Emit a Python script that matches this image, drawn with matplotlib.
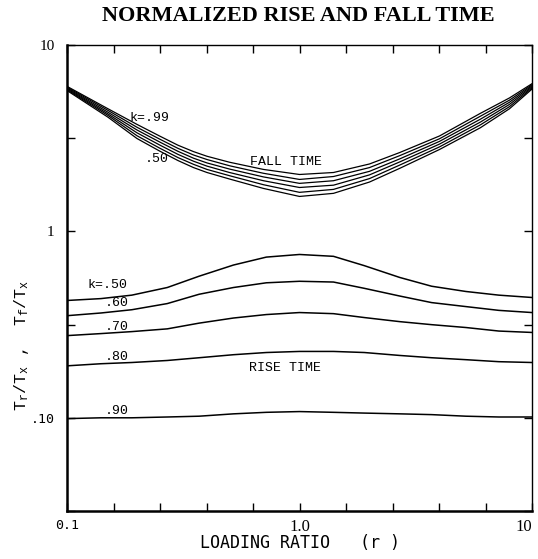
import matplotlib
matplotlib.use("Agg")
import matplotlib.pyplot as plt
from matplotlib.ticker import FixedLocator, FixedFormatter, NullLocator

# loading ratio r for the fall-time curves
r_fall = [0.1, 0.15, 0.2, 0.25, 0.3, 0.35, 0.4, 0.5, 0.7, 1.0, 1.4, 2.0, 2.7, 4.0, 6.0, 8.0, 10.0]
fall_k99 = [6.00, 4.55, 3.75, 3.25, 2.90, 2.68, 2.53, 2.35, 2.15, 2.02, 2.07, 2.30, 2.65, 3.25, 4.30, 5.20, 6.20]
fall_k90 = [5.94, 4.46, 3.62, 3.13, 2.79, 2.57, 2.43, 2.25, 2.05, 1.90, 1.97, 2.20, 2.55, 3.14, 4.15, 5.06, 6.12]
fall_k80 = [5.88, 4.36, 3.50, 3.02, 2.69, 2.47, 2.33, 2.16, 1.96, 1.81, 1.87, 2.10, 2.45, 3.04, 4.00, 4.93, 6.04]
fall_k70 = [5.82, 4.27, 3.38, 2.91, 2.59, 2.38, 2.24, 2.07, 1.87, 1.72, 1.77, 2.01, 2.36, 2.94, 3.86, 4.80, 5.96]
fall_k60 = [5.76, 4.19, 3.26, 2.80, 2.49, 2.29, 2.15, 1.99, 1.78, 1.62, 1.68, 1.92, 2.27, 2.84, 3.73, 4.67, 5.88]
fall_k50 = [5.70, 4.10, 3.15, 2.70, 2.40, 2.20, 2.07, 1.91, 1.70, 1.54, 1.60, 1.84, 2.18, 2.75, 3.60, 4.55, 5.80]

# loading ratio r for the rise-time curves
r_rise = [0.1, 0.14, 0.19, 0.27, 0.37, 0.52, 0.72, 1.0, 1.4, 1.9, 2.7, 3.7, 5.2, 7.2, 10.0]
rise_k50 = [0.426, 0.436, 0.455, 0.500, 0.575, 0.660, 0.728, 0.752, 0.735, 0.655, 0.566, 0.508, 0.476, 0.455, 0.442]
rise_k60 = [0.353, 0.365, 0.380, 0.410, 0.460, 0.500, 0.530, 0.540, 0.535, 0.495, 0.450, 0.415, 0.395, 0.377, 0.367]
rise_k70 = [0.276, 0.283, 0.290, 0.300, 0.322, 0.343, 0.358, 0.367, 0.362, 0.345, 0.328, 0.316, 0.305, 0.292, 0.287]
rise_k80 = [0.190, 0.195, 0.198, 0.203, 0.210, 0.218, 0.224, 0.227, 0.227, 0.224, 0.216, 0.210, 0.205, 0.200, 0.198]
rise_k90 = [0.099, 0.100, 0.100, 0.101, 0.102, 0.105, 0.107, 0.108, 0.107, 0.106, 0.105, 0.104, 0.102, 0.101, 0.101]

x_ticks = [10 ** (-1 + 0.2 * i) for i in range(11)]
x_labels = ["0.1", "", "", "", "", "1.0", "", "", "", "", "10"]
y_ticks = [10 ** (-1.5 + 0.5 * i) for i in range(6)]
y_labels = ["", ".10", "", "1", "", "10"]

W, H = 538, 559
fig = plt.figure(figsize=(W / 100, H / 100), dpi=100)
ax = fig.add_axes([67 / W, 1 - 511 / H, 465 / W, 466 / H])

for ys in [fall_k99, fall_k90, fall_k80, fall_k70, fall_k60, fall_k50]:
    ax.plot(r_fall, ys, color="black", lw=0.9)
for ys in [rise_k50, rise_k60, rise_k70, rise_k80, rise_k90]:
    ax.plot(r_rise, ys, color="black", lw=1.1)

ax.set_xscale("log")
ax.set_yscale("log")
ax.set_xlim(0.1, 10)
ax.set_ylim(10 ** -1.5, 10)

ax.xaxis.set_major_locator(FixedLocator(x_ticks))
ax.xaxis.set_major_formatter(FixedFormatter(x_labels))
ax.xaxis.set_minor_locator(NullLocator())
ax.yaxis.set_major_locator(FixedLocator(y_ticks))
ax.yaxis.set_major_formatter(FixedFormatter(y_labels))
ax.yaxis.set_minor_locator(NullLocator())
ax.tick_params(direction="in", length=6, width=1, top=True, right=True)
ax.tick_params(axis="x", labelsize=12, pad=6)
ax.tick_params(axis="y", labelsize=11, pad=9)

fig.canvas.draw()
xlabs = ax.get_xticklabels()
for lab in xlabs + ax.get_yticklabels():
    if lab.get_text() in ("0.1", ".10"):
        lab.set_family("DejaVu Sans Mono")
        lab.set_fontsize(9.5)
    else:
        lab.set_family("Liberation Serif")
for lab in xlabs:
    if lab.get_text() == "10":
        lab.set_horizontalalignment("right")

for side in ["left", "bottom"]:
    ax.spines[side].set_linewidth(1.8)
for side in ["top", "right"]:
    ax.spines[side].set_linewidth(1.0)

mono = "Liberation Mono"
ax.text(0.227, 4.05, "k=.99", family=mono, fontsize=9.5, ha="center", va="center")
ax.text(0.243, 2.44, ".50", family=mono, fontsize=9.5, ha="center", va="center")
ax.text(0.879, 2.35, "FALL TIME", family=mono, fontsize=9.5, ha="center", va="center")
ax.text(0.150, 0.513, "k=.50", family=mono, fontsize=9.5, ha="center", va="center")
ax.text(0.164, 0.415, ".60", family=mono, fontsize=9.5, ha="center", va="center")
ax.text(0.164, 0.308, ".70", family=mono, fontsize=9.5, ha="center", va="center")
ax.text(0.164, 0.213, ".80", family=mono, fontsize=9.5, ha="center", va="center")
ax.text(0.164, 0.109, ".90", family=mono, fontsize=9.5, ha="center", va="center")
ax.text(0.870, 0.186, "RISE TIME", family=mono, fontsize=9.5, ha="center", va="center")

fig.text(298 / W, 1 - 16 / H, "NORMALIZED RISE AND FALL TIME",
         family="Liberation Serif", fontsize=16, fontweight="bold",
         ha="center", va="center")
fig.text(300 / W, 1 - 543 / H, "LOADING RATIO   (r )",
         family="DejaVu Sans Mono", fontsize=12, ha="center", va="center")
fig.text(22 / W, 1 - 345 / H,
         r"$\mathregular{T_r/T_x}$ ,  $\mathregular{T_f/T_x}$",
         family=mono, fontsize=12, rotation=90, ha="center", va="center")

fig.savefig("out.png", dpi=100)
